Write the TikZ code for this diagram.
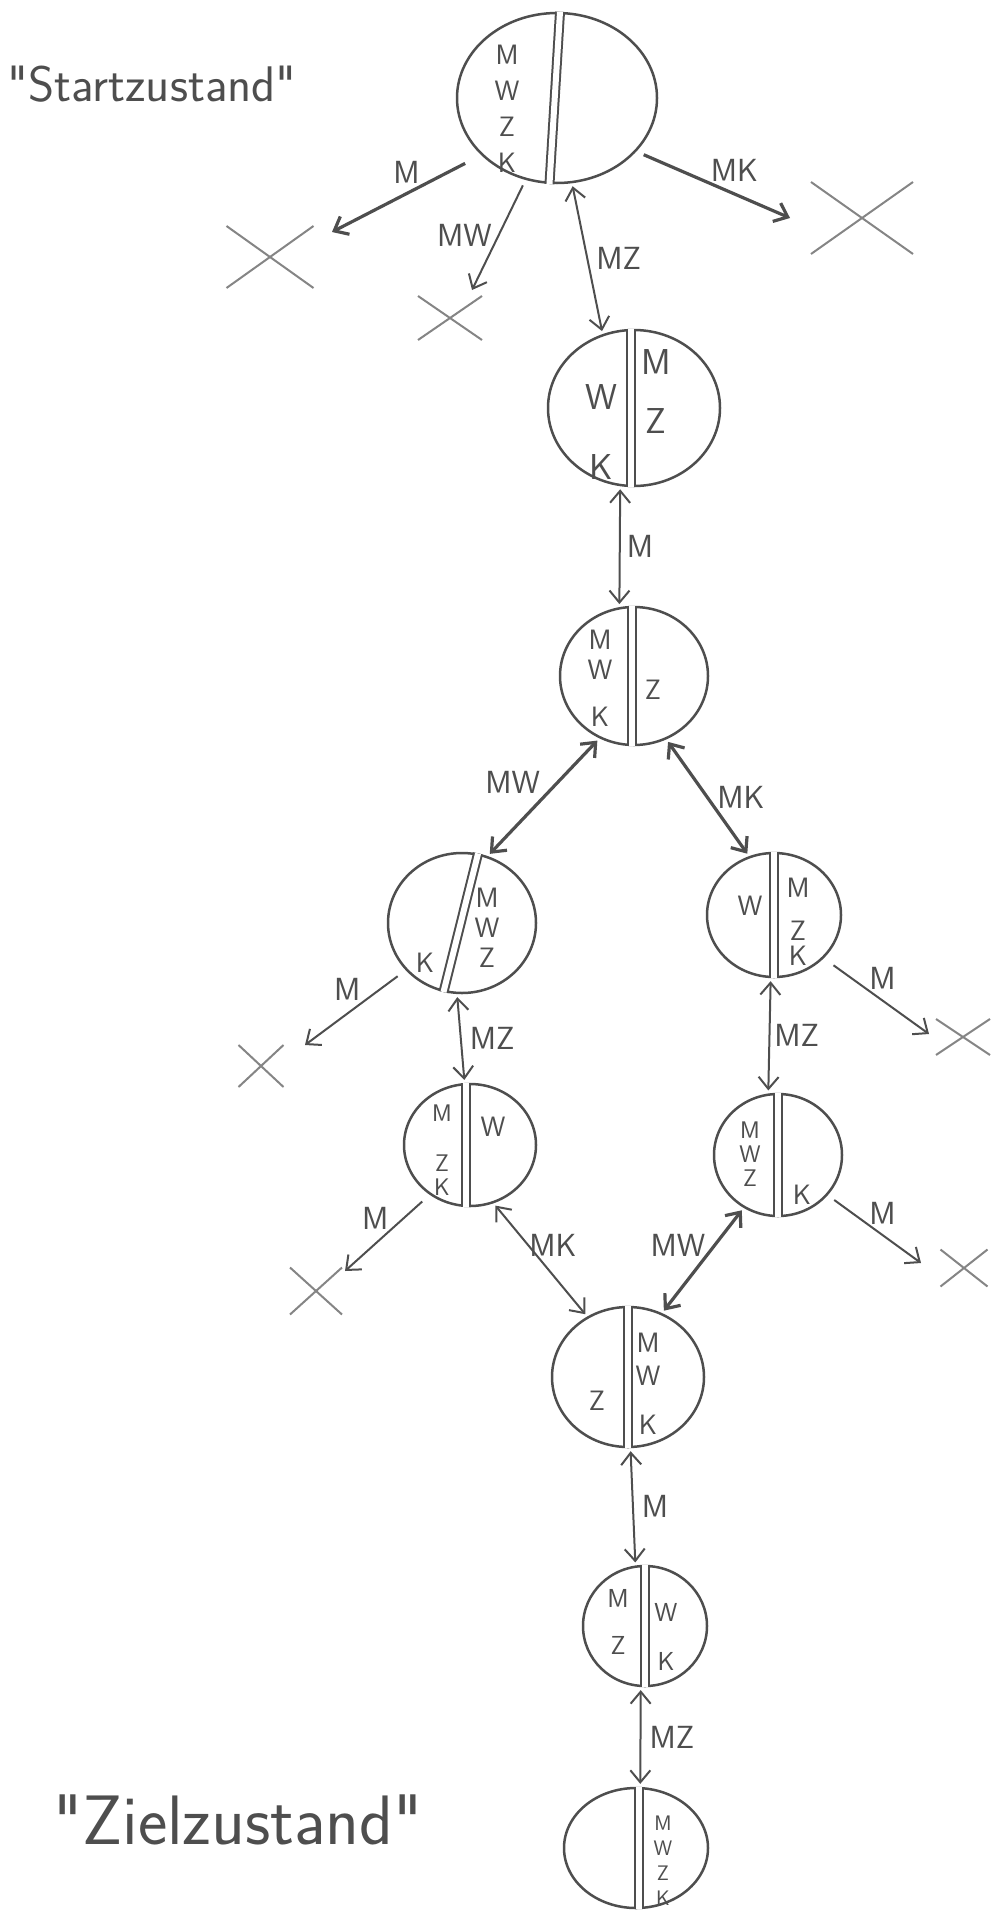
\documentclass[tikz,border=0pt]{standalone}
\usepackage{fontspec}
\usetikzlibrary{shapes.geometric,shapes.misc,arrows.meta,positioning}

\definecolor{bleistift}{HTML}{4E4E4E}
\definecolor{radiert}{HTML}{858585}

\tikzset{
zustand/.style = {draw = bleistift, line width = 2.5pt, shape = ellipse, inner sep = 0pt},
ufer/.style = {draw = bleistift, line width = 2pt, double = white, double distance = 6pt},
insasse/.style = {text = bleistift, font = \sffamily\fontsize{28}{30}\selectfont, align = center, inner sep = 0pt},
beschr/.style = {text = bleistift, font = \sffamily\fontsize{32}{34}\selectfont, inner sep = 2pt},
titel/.style = {text = bleistift, font = \sffamily\fontsize{50}{54}\selectfont, inner sep = 0pt},
tot/.style = {draw = radiert, line width = 2pt, shape = cross out, inner sep = 0pt},
zug/.style = {draw = bleistift, line width = 2pt, ->},
fahrt/.style = {draw = bleistift, line width = 2pt, <->, shorten <= 3pt, shorten >= 3pt},
dick/.style = {line width = 3.2pt}
}

\begin{document}
\begin{tikzpicture}[x = 1pt, y = -1pt, > = {Straight Barb[length = 12pt, width = 20pt]}]
\useasboundingbox (0,0) rectangle (994,1911);

\node[titel] (start) at (152,84) {\textquotedbl Startzustand\textquotedbl};
\node[titel, font = \sffamily\fontsize{70}{74}\selectfont] (ziel) at (238,1820) {\textquotedbl Zielzustand\textquotedbl};

% Zustaende
\node[zustand, minimum width = 200pt, minimum height = 170pt] (s0) at (557,98) {};
\node[zustand, minimum width = 172pt, minimum height = 156pt] (s1) at (634,408) {};
\node[zustand, minimum width = 148pt, minimum height = 138pt] (s2) at (634,676) {};
\node[zustand, minimum width = 148pt, minimum height = 140pt] (s3) at (462,923) {};
\node[zustand, minimum width = 134pt, minimum height = 124pt] (s4) at (774,915) {};
\node[zustand, minimum width = 132pt, minimum height = 122pt] (s5) at (470,1145) {};
\node[zustand, minimum width = 128pt, minimum height = 122pt] (s6) at (778,1155) {};
\node[zustand, minimum width = 152pt, minimum height = 140pt] (s7) at (628,1377) {};
\node[zustand, minimum width = 124pt, minimum height = 120pt] (s8) at (645,1626) {};
\node[zustand, minimum width = 144pt, minimum height = 120pt] (s9) at (636,1848) {};

\draw[ufer] (s0.88) -- (s0.265);
\draw[ufer] (s1.92) -- (s1.268);
\draw[ufer] (s2.92) -- (s2.268);
\draw[ufer] (s3.77) -- (s3.255);
\draw[ufer] (s4.north) -- (s4.south);
\draw[ufer] (s5.94) -- (s5.266);
\draw[ufer] (s6.north) -- (s6.south);
\draw[ufer] (s7.north) -- (s7.south);
\draw[ufer] (s8.north) -- (s8.south);
\draw[ufer] (s9.87) -- (s9.273);

% wer steht an welchem Ufer
\node[insasse] (s0l) at (507,109) {M\\[6pt]W\\[6pt]Z\\[6pt]K};
\node[insasse, font = \sffamily\fontsize{36}{38}\selectfont] (s1l) at (601,432) {W\\[32pt]K};
\node[insasse, font = \sffamily\fontsize{36}{38}\selectfont] (s1r) at (656,392) {M\\[21pt]Z};
\node[insasse] (s2l) at (600,678) {M\\W\\[17pt]K};
\node[insasse] (s2r) at (653,690) {Z};
\node[insasse] (s3l) at (425,963) {K};
\node[insasse] (s3r) at (487,928) {M\\W\\Z};
\node[insasse] (s4l) at (750,906) {W};
\node[insasse] (s4r) at (798,922) {M\\[13pt]Z\\[-5pt]K};
\node[insasse, font = \sffamily\fontsize{24}{24}\selectfont] (s5l) at (442,1150) {M\\[26pt]Z\\K};
\node[insasse] (s5r) at (493,1127) {W};
\node[insasse, font = \sffamily\fontsize{24}{24}\selectfont] (s6l) at (750,1154) {M\\W\\Z};
\node[insasse] (s6r) at (802,1195) {K};
\node[insasse] (s7l) at (597,1401) {Z};
\node[insasse] (s7r) at (648,1384) {M\\[3pt]W\\[19pt]K};
\node[insasse, font = \sffamily\fontsize{26}{30}\selectfont] (s8l) at (618,1622) {M\\[17pt]Z};
\node[insasse, font = \sffamily\fontsize{26}{30}\selectfont] (s8r) at (666,1637) {W\\[19pt]K};
\node[insasse, font = \sffamily\fontsize{21}{25}\selectfont] (s9r) at (663,1861) {M\\W\\Z\\K};

% verbotene Zustaende
\node[tot, minimum width = 85pt, minimum height = 60pt] (x1) at (270,257) {};
\node[tot, minimum width = 62pt, minimum height = 42pt] (x2) at (450,318) {};
\node[tot, minimum width = 100pt, minimum height = 70pt] (x3) at (862,218) {};
\node[tot, minimum width = 43pt, minimum height = 40pt] (x4) at (261,1066) {};
\node[tot, minimum width = 52pt, minimum height = 34pt] (x5) at (963,1037) {};
\node[tot, minimum width = 50pt, minimum height = 45pt] (x6) at (316,1291) {};
\node[tot, minimum width = 45pt, minimum height = 35pt] (x7) at (964,1268) {};

\coordinate (e1) at (332,232);
\coordinate (e2) at (472,290);
\coordinate (e3) at (790,218);
\coordinate (e4) at (305,1045);
\coordinate (e5) at (929,1034);
\coordinate (e6) at (345,1271);
\coordinate (e7) at (921,1263);

% Ueberfahrten
\draw[zug, dick, shorten <= 18pt] (s0.217) -- (e1) node[beschr, midway, above = 6pt] (l1) {M};
\draw[zug, shorten <= 6pt] (s0.249) -- (e2) node[beschr, midway, left = 4pt] (l2) {MW};
\draw[fahrt] (s0.280) -- (s1.113) node[beschr, midway, right = 6pt] (l3) {MZ};
\draw[zug, dick, shorten <= 8pt] (s0.326) -- (e3) node[beschr, midway, above right = 0pt and -6pt] (l4) {MK};
\draw[fahrt] (s1.260) -- (s2.102) node[beschr, midway, right = 4pt] (l5) {M};
\draw[fahrt, dick] (s2.241) -- (s3.69) node[beschr, midway, above left = 0pt and 0pt] (l6) {MW};
\draw[fahrt, dick] (s2.297) -- (s4.113) node[beschr, midway, right = 6pt] (l7) {MK};
\draw[zug, shorten <= 10pt] (s3.220) -- (e4) node[beschr, midway, above left = 4pt and -8pt] (l8) {M};
\draw[fahrt] (s3.266) -- (s5.95) node[beschr, midway, right = 6pt] (l9) {MZ};
\draw[zug, shorten <= 12pt] (s4.319) -- (e5) node[beschr, midway, above right = 4pt and -10pt] (l10) {M};
\draw[fahrt] (s4.267) -- (s6.99) node[beschr, midway, right = 2pt] (l11) {MZ};
\draw[zug, shorten <= 10pt] (s5.231) -- (e6) node[beschr, midway, above left = 0pt and -4pt] (l12) {M};
\draw[fahrt] (s5.292) -- (s7.124) node[beschr, midway, above right = 0pt and -14pt] (l13) {MK};
\draw[fahrt, dick] (s6.237) -- (s7.62) node[beschr, midway, above left = 0pt and -6pt] (l14) {MW};
\draw[zug, shorten <= 8pt] (s6.321) -- (e7) node[beschr, midway, above right = 2pt and -8pt] (l15) {M};
\draw[fahrt] (s7.272) -- (s8.99) node[beschr, midway, right = 6pt] (l16) {M};
\draw[fahrt] (s8.266) -- (s9.86) node[beschr, midway, right = 6pt] (l17) {MZ};
\end{tikzpicture}
\end{document}
